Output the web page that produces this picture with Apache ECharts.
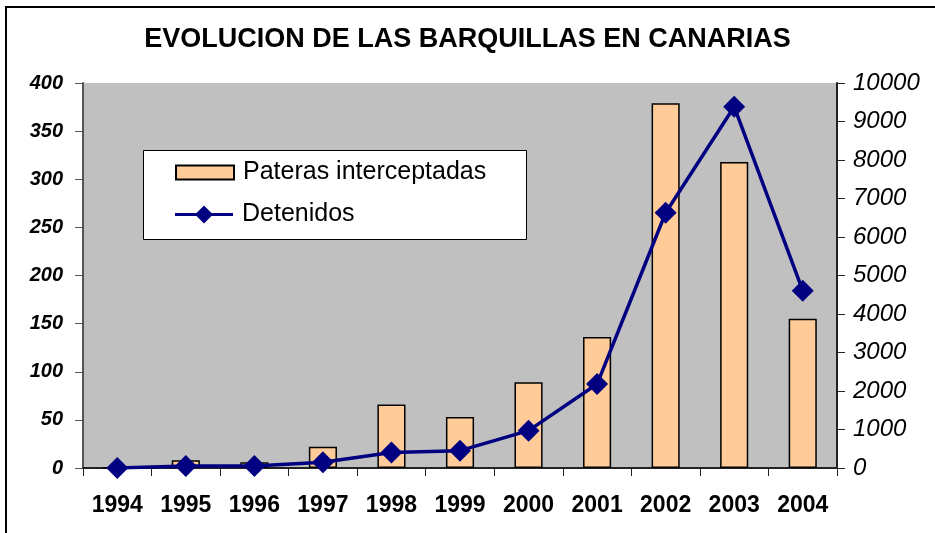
<!DOCTYPE html>
<html>
<head>
<meta charset="utf-8">
<script src="https://cdn.jsdelivr.net/npm/echarts@6/dist/echarts.min.js"></script>
<style>
  html, body { margin: 0; padding: 0; background: #fff; }
  #chart { width: 935px; height: 533px; }
</style>
</head>
<body>
<div id="chart"></div>
<script>
const years = ['1994', '1995', '1996', '1997', '1998', '1999', '2000', '2001', '2002', '2003', '2004']
const pateras = [0, 8, 6, 22, 66, 53, 89, 136, 379, 318, 155]
const detenidos = [0, 50, 50, 150, 400, 450, 970, 2180, 6630, 9385, 4605]

const chart = echarts.init(document.getElementById('chart'))

const font = 'Liberation Sans, Arial'
// linea con rombo para la leyenda de "Detenidos"
const lineIcon = 'path://M0,7.5L21.5,7.5L29,0L36.5,7.5L58,7.5L58,10.5L36.5,10.5L29,18L21.5,10.5L0,10.5Z'

const option = {
  animation: false,
  title: {
    text: 'EVOLUCION DE LAS BARQUILLAS EN CANARIAS',
    left: 'center',
    top: 21,
    textStyle: { fontFamily: font, fontSize: 27, fontWeight: 'bold', color: '#000' }
  },
  graphic: [
    {
      type: 'polyline',
      shape: { points: [[6, 533], [6, 7], [935, 7]] },
      style: { stroke: '#000', lineWidth: 2, fill: null }
    },
    {
      type: 'rect',
      z: 3,
      shape: { x: 143.5, y: 150.5, width: 383, height: 89 },
      style: { fill: '#fff', stroke: '#000', lineWidth: 1 }
    }
  ],
  legend: [
    {
      orient: 'vertical',
      left: 175,
      top: 160,
      padding: 0,
      itemWidth: 58,
      itemHeight: 14,
      textStyle: { fontFamily: font, fontSize: 25, color: '#000', padding: [0, 0, 0, 4] },
      data: [{ name: 'Pateras interceptadas', icon: 'rect' }]
    },
    {
      orient: 'vertical',
      left: 175,
      top: 202,
      padding: 0,
      itemWidth: 58,
      itemHeight: 18,
      textStyle: { fontFamily: font, fontSize: 25, color: '#000', padding: [0, 0, 0, 4] },
      data: [{ name: 'Detenidos', icon: lineIcon, itemStyle: { color: '#000080', borderWidth: 0 } }]
    }
  ],
  grid: {
    left: 83,
    right: 98,
    top: 83,
    bottom: 65,
    show: true,
    backgroundColor: '#c0c0c0',
    borderWidth: 0
  },
  xAxis: {
    type: 'category',
    data: years,
    axisLine: { lineStyle: { color: '#222', width: 2 } },
    axisTick: { show: true, alignWithLabel: false, length: 8, lineStyle: { color: '#222' } },
    axisLabel: { interval: 0, fontFamily: font, fontSize: 23, fontWeight: 'bold', color: '#000', margin: 26 }
  },
  yAxis: [
    {
      type: 'value',
      min: 0,
      max: 400,
      interval: 50,
      splitLine: { show: false },
      axisLine: { show: true, lineStyle: { color: '#555', width: 2 } },
      axisTick: { show: true, length: 8, lineStyle: { color: '#555' } },
      axisLabel: { fontFamily: font, fontSize: 20, fontWeight: 'bold', fontStyle: 'italic', color: '#000', margin: 20 }
    },
    {
      type: 'value',
      min: 0,
      max: 10000,
      interval: 1000,
      splitLine: { show: false },
      axisLine: { show: true, lineStyle: { color: '#222', width: 2 } },
      axisTick: { show: true, length: 8, lineStyle: { color: '#222' } },
      axisLabel: {
        fontFamily: font,
        fontSize: 24,
        fontStyle: 'italic',
        color: '#000',
        margin: 16,
        formatter: (v) => String(v)
      }
    }
  ],
  series: [
    {
      name: 'Pateras interceptadas',
      type: 'bar',
      yAxisIndex: 0,
      barWidth: '41%',
      itemStyle: { color: '#ffcc99', borderColor: '#000', borderWidth: 1.5 },
      data: pateras
    },
    {
      name: 'Detenidos',
      type: 'line',
      yAxisIndex: 1,
      symbol: 'path://M0,-1L1,0L0,1L-1,0Z',
      symbolSize: 22,
      showSymbol: true,
      lineStyle: { color: '#000080', width: 3.5 },
      itemStyle: { color: '#000080' },
      data: detenidos
    }
  ]
}

chart.setOption(option)
</script>
</body>
</html>
